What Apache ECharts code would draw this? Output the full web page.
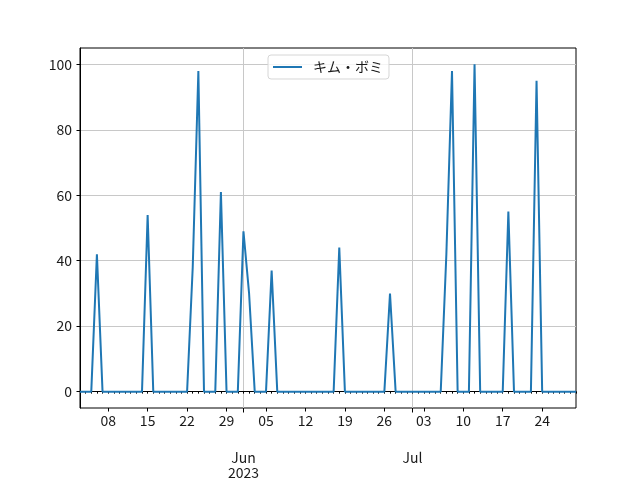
<!DOCTYPE html>
<html>
<head>
<meta charset="utf-8">
<script src="https://cdn.jsdelivr.net/npm/echarts@6/dist/echarts.min.js"></script>
<style>html,body{margin:0;padding:0;background:#fff;}#c{width:640px;height:480px;}</style>
</head>
<body>
<div id="c"></div>
<script>
// Daily dates from 2023-05-03 to 2023-07-30
const startDate = '2023-05-03';
const endDate = '2023-07-30';
const seriesName = 'キム・ボミ';
// values per day, May 3 .. Jul 30
const mayValues = [0,0,0,42,0,0,0,0,0,0,0,0,54,0,0,0,0,0,0,0,38,98,0,0,0,61,0,0,0]; // May 3..31
const junValues = [49,30,0,0,0,37,0,0,0,0,0,0,0,0,0,0,0,44,0,0,0,0,0,0,0,0,30,0,0,0]; // Jun 1..30
const julValues = [0,0,0,0,0,0,42,98,0,0,0,100,0,0,0,0,0,55,0,0,0,0,95,0,0,0,0,0,0,0]; // Jul 1..30
const yTicks = [0,20,40,60,80,100];
const monthNames = ['Jan','Feb','Mar','Apr','May','Jun','Jul','Aug','Sep','Oct','Nov','Dec'];

const values = mayValues.concat(junValues, julValues);
const dates = [];
{
  let d = new Date(startDate + 'T00:00:00Z');
  const e = new Date(endDate + 'T00:00:00Z');
  while (d <= e) {
    dates.push(d.toISOString().slice(0,10));
    d = new Date(d.getTime() + 86400000);
  }
}
function isMonday(s){ return new Date(s + 'T00:00:00Z').getUTCDay() === 1; }
function isMonthStart(s){ return s.slice(8,10) === '01'; }

const FONT = '"Noto Sans CJK JP", "Noto Sans", sans-serif';
const TXT = '#1a1a1a';
const chart = echarts.init(document.getElementById('c'), null, {renderer:'canvas'});
const baseX = {
  type: 'category', data: dates, boundaryGap: false, position: 'bottom', gridIndex: 0
};
chart.setOption({
  animation: false,
  backgroundColor: '#fff',
  textStyle: {fontFamily: FONT},
  grid: {left: 80, right: 64, top: 48, bottom: 72, show: true, borderColor: '#000', borderWidth: 1, backgroundColor: 'transparent', containLabel: false},
  legend: {
    top: 55, left: 268,
    data: [{name: seriesName, icon: 'rect'}],
    itemWidth: 29, itemHeight: 2,
    padding: [5, 6, 5, 5],
    borderColor: '#d6d6d6', borderWidth: 1, borderRadius: 3,
    backgroundColor: 'rgba(255,255,255,0.8)',
    textStyle: {fontFamily: FONT, fontSize: 14, color: TXT, padding: [0,0,0,6]}
  },
  xAxis: [
    Object.assign({}, baseX, {
      axisLine: {show: true, lineStyle: {color: '#000', width: 1}},
      axisTick: {show: true, interval: 0, length: 2, lineStyle: {color: '#000'}},
      axisLabel: {show: false},
      splitLine: {show: false}
    }),
    Object.assign({}, baseX, {
      axisLine: {show: false},
      axisTick: {show: true, length: 3.5, interval: (i, v) => isMonday(v), lineStyle: {color: '#000'}},
      axisLabel: {show: true, interval: (i, v) => isMonday(v), formatter: v => v.slice(8,10),
        margin: 6, fontSize: 14, color: TXT, fontFamily: FONT},
      splitLine: {show: false}
    }),
    Object.assign({}, baseX, {
      axisLine: {show: false},
      axisTick: {show: true, length: 4.5, interval: (i, v) => isMonthStart(v), lineStyle: {color: '#000'}},
      axisLabel: {show: true, interval: (i, v) => isMonthStart(v),
        formatter: (v) => {
          const m = monthNames[parseInt(v.slice(5,7),10)-1];
          if (v.slice(5,7) === '06') return m + '\n' + v.slice(0,4);
          return m;
        },
        margin: 42, fontSize: 14, lineHeight: 15, color: TXT, fontFamily: FONT, verticalAlign: 'top'},
      splitLine: {show: true, interval: (i, v) => isMonthStart(v), lineStyle: {color: '#c8c8c8', width: 1}}
    })
  ],
  yAxis: {
    type: 'value', min: -5, max: 105,
    axisLine: {show: true, lineStyle: {color: '#000', width: 1}},
    axisTick: {show: true, length: 3.5, customValues: yTicks, lineStyle: {color: '#000'}},
    axisLabel: {show: true, customValues: yTicks, margin: 8, fontSize: 14, color: TXT, fontFamily: FONT},
    splitLine: {show: true, lineStyle: {color: '#c8c8c8', width: 1}}
  },
  series: [{
    name: seriesName, type: 'line', xAxisIndex: 0, data: values,
    showSymbol: false, symbol: 'none',
    lineStyle: {color: '#1f77b4', width: 2},
    itemStyle: {color: '#1f77b4'}
  }]
});
</script>
</body>
</html>
